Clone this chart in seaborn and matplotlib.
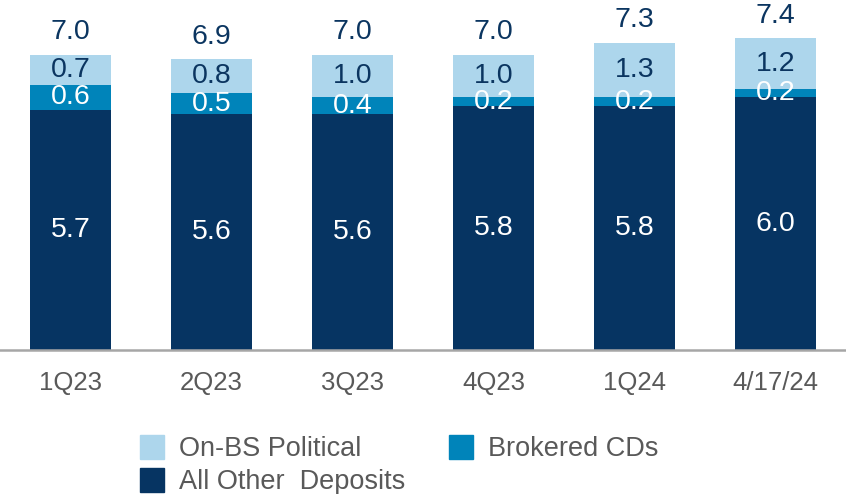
import pandas as pd
import matplotlib
matplotlib.use('Agg')
import matplotlib.pyplot as plt
import seaborn as sns
from matplotlib.patches import Patch

periods = ['1Q23', '2Q23', '3Q23', '4Q23', '1Q24', '4/17/24']
other_deposits = [5.7, 5.6, 5.6, 5.8, 5.8, 6.0]
brokered_cds = [0.6, 0.5, 0.4, 0.2, 0.2, 0.2]
political = [0.7, 0.8, 1.0, 1.0, 1.3, 1.2]
totals = [7.0, 6.9, 7.0, 7.0, 7.3, 7.4]

c_light = '#ADD6EC'
c_mid = '#0084BA'
c_dark = '#063462'
c_text = '#0B3560'

sns.set_style('white')
plt.rcParams['font.family'] = ['Liberation Sans', 'DejaVu Sans']

df = pd.DataFrame({'period': periods, 'other': other_deposits,
                   'brokered': brokered_cds, 'political': political, 'total': totals})
df['mid_top'] = df['other'] + df['brokered']
df['top'] = df['mid_top'] + df['political']

fig = plt.figure(figsize=(8.46, 4.94), dpi=100)
ax = fig.add_axes([0, 0.2915, 1, 0.7085])

bw = 0.57
for col, c in [('top', c_light), ('mid_top', c_mid), ('other', c_dark)]:
    sns.barplot(data=df, x='period', y=col, color=c, width=bw, saturation=1,
                linewidth=0, edgecolor='none', ax=ax)

fs = 20.5
for i, r in df.iterrows():
    ax.text(i, r['other'] / 2, f"{r['other']:.1f}", ha='center', va='center',
            color='white', fontsize=fs)
    ax.text(i, r['other'] + r['brokered'] / 2, f"{r['brokered']:.1f}", ha='center',
            va='center', color='white', fontsize=fs)
    ax.text(i, r['mid_top'] + r['political'] / 2, f"{r['political']:.1f}", ha='center',
            va='center', color=c_text, fontsize=fs)
    ax.annotate(f"{r['total']:.1f}", (i, r['top']), xytext=(0, 7), textcoords='offset points',
                ha='center', va='bottom', color=c_text, fontsize=fs)

ax.set_xlim(-0.5, 5.5)
ax.set_ylim(0, 8.31)
ax.set_xlabel('')
ax.set_ylabel('')
ax.set_yticks([])
for s in ['top', 'left', 'right']:
    ax.spines[s].set_visible(False)
ax.spines['bottom'].set_color('#A6A6A6')
ax.spines['bottom'].set_linewidth(1.8)
ax.tick_params(axis='x', length=0, pad=15, labelsize=18.5, labelcolor='#595959')

handles = [Patch(color=c_light, label='On-BS Political'),
           Patch(color=c_dark, label='All Other  Deposits'),
           Patch(color=c_mid, label='Brokered CDs')]
leg = fig.legend(handles=handles, ncol=2, loc='upper left',
                 bbox_to_anchor=(140 / 846, 1 - 435 / 494), frameon=False,
                 fontsize=19.5, handlelength=0.9, handleheight=1.0,
                 handletextpad=0.55, labelspacing=0.2, columnspacing=1.6,
                 borderpad=0, borderaxespad=0)
for t in leg.get_texts():
    t.set_color('#595959')

fig.savefig('out.png', dpi=100)
